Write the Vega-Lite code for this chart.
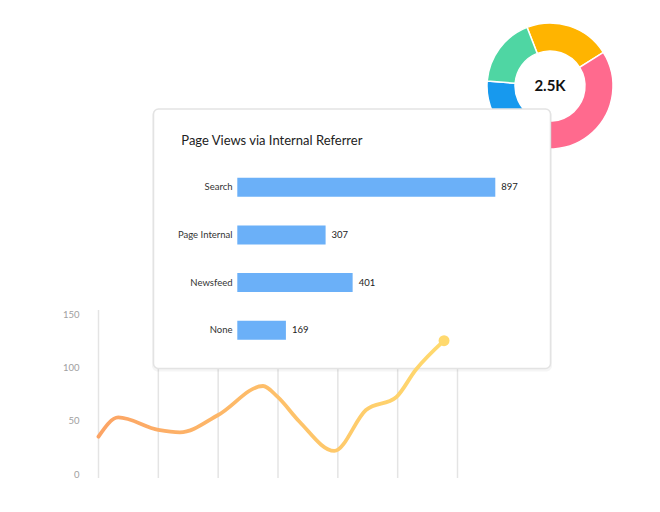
{
  "$schema": "https://vega.github.io/schema/vega-lite/v6.json",
  "width": 660,
  "height": 512,
  "autosize": {"type": "none"},
  "padding": 0,
  "background": "white",
  "config": {"view": {"stroke": null}, "font": "Lato"},
  "resolve": {
    "scale": {"x": "independent", "y": "independent", "theta": "independent", "color": "independent"},
    "axis": {"x": "independent", "y": "independent"}
  },
  "layer": [
    {
      "data": {"values": [{"t": 0}, {"t": 10}, {"t": 20}, {"t": 30}, {"t": 40}, {"t": 50}, {"t": 60}]},
      "mark": {"type": "rule", "color": "#e4e4e4", "strokeWidth": 1.5},
      "encoding": {
        "x": {"field": "t", "type": "quantitative",
          "scale": {"domain": [0, 60], "range": [98.5, 457.5], "nice": false, "zero": false}, "axis": null},
        "y": {"datum": -3.75, "type": "quantitative",
          "scale": {"domain": [-3.75, 153.75], "range": [478, 310], "nice": false, "zero": false},
          "axis": {"orient": "left", "offset": -84, "values": [0, 50, 100, 150], "grid": false, "domain": false, "ticks": false, "labelPadding": 5, "labelFontSize": 9.5, "labelColor": "#a0a0a0", "title": null}},
        "y2": {"datum": 153.75}
      }
    },
    {
      "data": {"values": [
        {"segment": "Segment A", "rank": 1, "value": 550},
        {"segment": "Segment B", "rank": 2, "value": 1100},
        {"segment": "Segment C", "rank": 3, "value": 405},
        {"segment": "Segment D", "rank": 4, "value": 445}
      ]},
      "layer": [
        {
          "mark": {"type": "arc", "innerRadius": 35, "outerRadius": 63, "stroke": "white", "strokeWidth": 1.5},
          "encoding": {
            "theta": {"field": "value", "type": "quantitative", "stack": true, "scale": {"range": [-0.3735, 5.9097]}},
            "order": {"field": "rank", "type": "quantitative"},
            "color": {"field": "segment", "type": "nominal", "legend": null,
              "scale": {"domain": ["Segment A", "Segment B", "Segment C", "Segment D"], "range": ["#FFB400", "#FF6A8E", "#1799EE", "#4FD6A3"]}},
            "x": {"datum": 0.5, "type": "quantitative", "scale": {"domain": [0, 1], "range": [487, 613]}, "axis": null},
            "y": {"datum": 0.5, "type": "quantitative", "scale": {"domain": [0, 1], "range": [23, 149]}, "axis": null}
          }
        },
        {
          "data": {"values": [{"total": "2.5K"}]},
          "mark": {"type": "text", "fontSize": 15, "fontWeight": "bold", "color": "#111", "baseline": "middle", "align": "center"},
          "encoding": {
            "text": {"field": "total"},
            "x": {"datum": 0.5, "type": "quantitative"},
            "y": {"datum": 0.5, "type": "quantitative"}
          }
        }
      ]
    },
    {
      "data": {"values": [{"title": "Page Views via Internal Referrer"}]},
      "layer": [
        {
          "mark": {"type": "rect", "fill": "#000", "opacity": 0.04, "cornerRadius": 6},
          "encoding": {
            "x": {"datum": -0.4, "type": "quantitative", "scale": {"domain": [0, 100], "range": [153.5, 550.5]}, "axis": null},
            "x2": {"datum": 100.4},
            "y": {"datum": 0.3, "type": "quantitative", "scale": {"domain": [0, 100], "range": [109, 368.5]}, "axis": null},
            "y2": {"datum": 101.2}
          }
        },
        {
          "mark": {"type": "rect", "fill": "white", "stroke": "#e3e3e3", "strokeWidth": 1.5, "cornerRadius": 5},
          "encoding": {
            "x": {"datum": 0, "type": "quantitative"},
            "x2": {"datum": 100},
            "y": {"datum": 0, "type": "quantitative"},
            "y2": {"datum": 100}
          }
        },
        {
          "mark": {"type": "text", "align": "left", "baseline": "alphabetic", "fontSize": 13, "color": "#222"},
          "encoding": {
            "text": {"field": "title"},
            "x": {"datum": 7, "type": "quantitative"},
            "y": {"datum": 13.9, "type": "quantitative"}
          }
        }
      ]
    },
    {
      "data": {"values": [
        {"referrer": "Search", "views": 897},
        {"referrer": "Page Internal", "views": 307},
        {"referrer": "Newsfeed", "views": 401},
        {"referrer": "None", "views": 169}
      ]},
      "encoding": {
        "y": {"field": "referrer", "type": "nominal", "sort": null,
          "scale": {"range": [163.5, 354], "paddingInner": 0.6, "paddingOuter": 0.3},
          "axis": {"orient": "left", "offset": -237, "title": null, "domain": false, "ticks": false, "grid": false,
            "labelPadding": 5, "labelFontSize": 9.5, "labelColor": "#333", "zindex": 1}},
        "x": {"field": "views", "type": "quantitative", "scale": {"domain": [0, 897], "range": [237.3, 495.3], "nice": false}, "axis": null}
      },
      "layer": [
        {"mark": {"type": "bar", "color": "#6BB0F8"}},
        {"mark": {"type": "text", "align": "left", "baseline": "middle", "dx": 6, "fontSize": 9.5, "color": "#222"},
         "encoding": {"text": {"field": "views", "type": "quantitative"}}}
      ]
    },
    {
      "data": {"values": [
        {"t": 0, "v": 35},
        {"t": 3.3, "v": 53},
        {"t": 10, "v": 41.3},
        {"t": 13.6, "v": 39},
        {"t": 20, "v": 55.3},
        {"t": 27.5, "v": 82.5},
        {"t": 29.9, "v": 72.5},
        {"t": 33.6, "v": 49},
        {"t": 39.4, "v": 21.6},
        {"t": 44.7, "v": 60},
        {"t": 49.75, "v": 72},
        {"t": 53, "v": 97.5},
        {"t": 57.75, "v": 125}
      ]},
      "encoding": {
        "x": {"field": "t", "type": "quantitative",
          "scale": {"domain": [0, 60], "range": [98.5, 457.5], "nice": false, "zero": false}, "axis": null},
        "y": {"field": "v", "type": "quantitative",
          "scale": {"domain": [-3.75, 153.75], "range": [478, 310], "nice": false, "zero": false}, "axis": null}
      },
      "layer": [
        {"mark": {"type": "line", "interpolate": "monotone", "strokeWidth": 3.8, "strokeCap": "round",
          "stroke": {"gradient": "linear", "x1": 0, "y1": 0, "x2": 1, "y2": 0,
            "stops": [{"offset": 0, "color": "#FCA465"}, {"offset": 1, "color": "#FFDA6E"}]}}},
        {"transform": [{"filter": "datum.t == 57.75"}],
         "mark": {"type": "circle", "size": 120, "color": "#FFD96E", "opacity": 1}}
      ]
    }
  ]
}
